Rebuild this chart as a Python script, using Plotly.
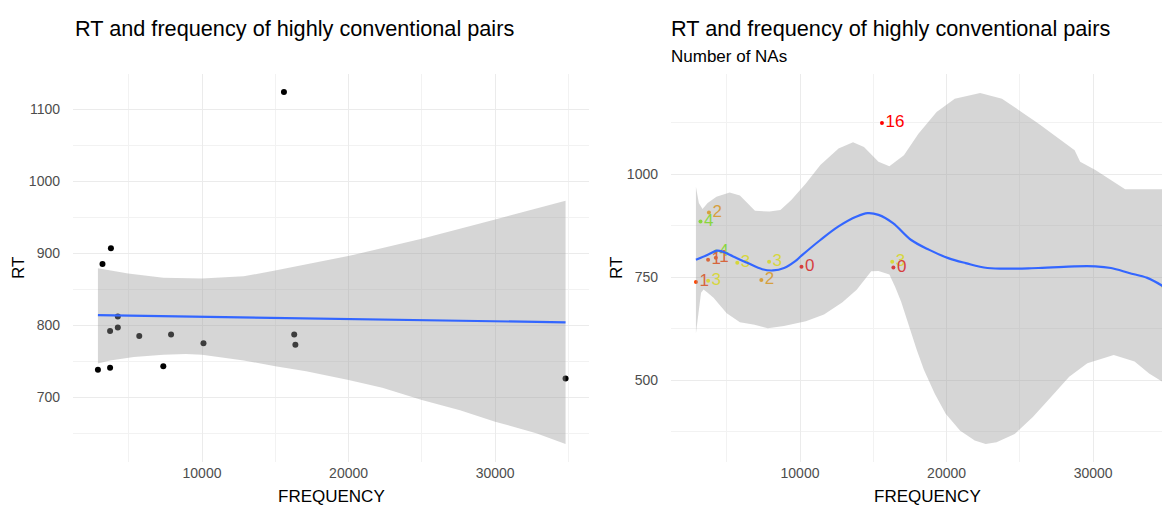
import plotly.graph_objects as go

# ---------------- data ----------------
FREQUENCY = [2900, 3211, 3730, 3730, 3786, 4256, 4256, 5720, 7360, 7890, 10100, 15590, 16290, 16370, 34800]
RT = [738, 885, 741, 792, 907, 812, 797, 785, 743, 787, 775, 1124, 787, 773, 726]
NAS = [1, 4, 3, 1, 2, 4, 1, 3, 2, 3, 0, 16, 3, 0, 3]

# left panel: linear fit and its confidence band
lm_x = [2900, 34800]
lm_y = [814, 804]
lm_up_x = [2900, 4961, 7363, 10000, 12846, 14987, 19974, 24987, 30000, 34800]
lm_up_y = [879, 872, 866, 865, 868, 876, 896, 920, 947, 973]
lm_lo_x = [2900, 3730, 5350, 7360, 8900, 10000, 12850, 15000, 17100, 20000, 22300, 25000, 27600, 30000, 32800, 34800]
lm_lo_y = [747, 751, 756, 759, 760, 759, 751, 743, 736, 724, 713, 696, 682, 666, 650, 635]

# right panel: loess fit and its confidence band
lo_x = [2900, 3708, 4327, 4699, 5442, 6433, 7425, 8168, 8911, 9655, 10101, 11389, 12628, 13867,
        14611, 15354, 16345, 17584, 18823, 20112, 21301, 22788, 26257, 28735, 30148, 31213, 32452, 33691, 34800]
lo_y = [792, 804, 814, 812, 800, 784, 769, 766, 772, 788, 802, 840, 873, 897,
        905, 901, 881, 840, 816, 796, 784, 772, 772, 776, 776, 772, 760, 748, 727]
lo_up_x = [2900, 3100, 3350, 3700, 4300, 5200, 5900, 6929, 7920, 8663, 9407, 10398, 11389, 12628, 13619,
           14363, 15354, 16097, 17088, 18079, 19318, 20557, 22292, 23779, 26257, 28735, 29110, 30148, 32180, 34800]
lo_up_y = [969, 930, 915, 930, 945, 955, 948, 911, 909, 913, 937, 977, 1022, 1062, 1077,
           1066, 1030, 1019, 1046, 1098, 1151, 1183, 1197, 1183, 1123, 1058, 1030, 1010, 963, 963]
lo_lo_x = [2900, 3050, 3250, 3420, 3700, 4100, 4450, 5000, 5900, 6900, 7800, 8900, 10400, 11637, 12876,
           13867, 14858, 15354, 16097, 16500, 16900, 17200, 17460, 17955, 18451, 19194, 19938, 20929, 21920,
           22664, 23407, 24646, 25885, 27124, 28363, 29602, 31400, 32824, 33815, 34800]
lo_lo_y = [613, 660, 712, 720, 712, 700, 686, 662, 640, 634, 626, 631, 643, 659, 688,
           719, 764, 765, 756, 725, 690, 660, 631, 574, 525, 467, 418, 377, 353,
           345, 349, 369, 410, 459, 508, 541, 561, 545, 516, 494]

NA_COLORS = {0: "#FF0000", 1: "#FF4500", 2: "#FFA500", 3: "#FFFF00", 4: "#7FFF00", 16: "#FF0000"}

TITLE = "RT and frequency of highly conventional pairs"
SUBTITLE = "Number of NAs"

# ---------------- figure ----------------
# the page body has an 8px margin; figure is sized so it ends at the window edge
OFF = 8
W, H = 1170 - OFF, 505 - OFF
FONT = "Liberation Sans, Arial, sans-serif"
BAND = "rgba(153,153,153,0.4)"
BLUE = "#3366FF"


def px(sx):
    return (sx - OFF) / W


def py(sy):
    return 1 - (sy - OFF) / H


fig = go.Figure()

# left panel
fig.add_trace(go.Scatter(x=FREQUENCY, y=RT, mode="markers",
                         marker=dict(color="black", size=6), xaxis="x", yaxis="y",
                         showlegend=False, hoverinfo="skip"))
fig.add_trace(go.Scatter(x=lm_up_x + lm_lo_x[::-1], y=lm_up_y + lm_lo_y[::-1],
                         fill="toself", fillcolor=BAND, line=dict(width=0),
                         mode="lines", xaxis="x", yaxis="y", showlegend=False, hoverinfo="skip"))
fig.add_trace(go.Scatter(x=lm_x, y=lm_y, mode="lines", line=dict(color=BLUE, width=2.2),
                         xaxis="x", yaxis="y", showlegend=False, hoverinfo="skip"))

# right panel
cols = [NA_COLORS[n] for n in NAS]
fig.add_trace(go.Scatter(x=FREQUENCY, y=RT, mode="markers+text", text=[str(n) for n in NAS],
                         textposition="middle right",
                         textfont=dict(color=cols, size=17, family=FONT),
                         marker=dict(color=cols, size=4), xaxis="x2", yaxis="y2",
                         showlegend=False, hoverinfo="skip", cliponaxis=False))
fig.add_trace(go.Scatter(x=lo_up_x + lo_lo_x[::-1], y=lo_up_y + lo_lo_y[::-1],
                         fill="toself", fillcolor=BAND, line=dict(width=0),
                         mode="lines", xaxis="x2", yaxis="y2", showlegend=False, hoverinfo="skip"))
fig.add_trace(go.Scatter(x=lo_x, y=lo_y, mode="lines", line=dict(color=BLUE, width=2.2, shape="spline"),
                         xaxis="x2", yaxis="y2", showlegend=False, hoverinfo="skip"))

ydom = [py(462), py(74)]
grid = "#EBEBEB"
minor = dict(showgrid=True, gridcolor="#F2F2F2", gridwidth=0.6, ticks="")
tickfont = dict(family=FONT, size=14, color="#4D4D4D")

common_x = dict(showline=False, zeroline=False, ticks="", gridcolor=grid, gridwidth=1.1,
                tickfont=tickfont, dtick=10000, tick0=0, tickformat="d", ticklabelstandoff=1)
common_y = dict(showline=False, zeroline=False, ticks="", gridcolor=grid, gridwidth=1.1,
                tickfont=tickfont, tick0=0, tickformat="d", ticklabelstandoff=12)
fig.update_layout(
    width=W, height=H, margin=dict(l=0, r=0, t=0, b=0),
    paper_bgcolor="white", plot_bgcolor="white",
    font=dict(family=FONT),
    xaxis=dict(domain=[px(73), px(589)], range=[1200, 36400], anchor="y",
               minor=dict(dtick=5000, **minor), **common_x),
    yaxis=dict(domain=ydom, range=[610, 1149], anchor="x", dtick=100,
               minor=dict(dtick=50, **minor), **common_y),
    xaxis2=dict(domain=[px(671), 1.0], range=[1200, 35240], anchor="y2",
                minor=dict(dtick=5000, **minor), **common_x),
    yaxis2=dict(domain=ydom, range=[301, 1243], anchor="x2", dtick=250,
                minor=dict(dtick=125, **minor), **common_y),
)

ann = []


def txt(x, y, s, size, color="black", xanchor="left", angle=0):
    ann.append(dict(x=px(x), y=py(y), xref="paper", yref="paper", text=s, showarrow=False,
                    xanchor=xanchor, yanchor="middle", textangle=angle,
                    font=dict(family=FONT, size=size, color=color)))


txt(73, 28, TITLE, 21.7)
txt(669, 28, TITLE, 21.7)
txt(669, 57, SUBTITLE, 17)
txt(331, 496, "FREQUENCY", 17, xanchor="center")
txt(928, 496, "FREQUENCY", 17, xanchor="center")
txt(18, 268, "RT", 17, xanchor="center", angle=-90)
txt(616, 268, "RT", 17, xanchor="center", angle=-90)
fig.update_layout(annotations=ann)

fig.write_html("out.html")
